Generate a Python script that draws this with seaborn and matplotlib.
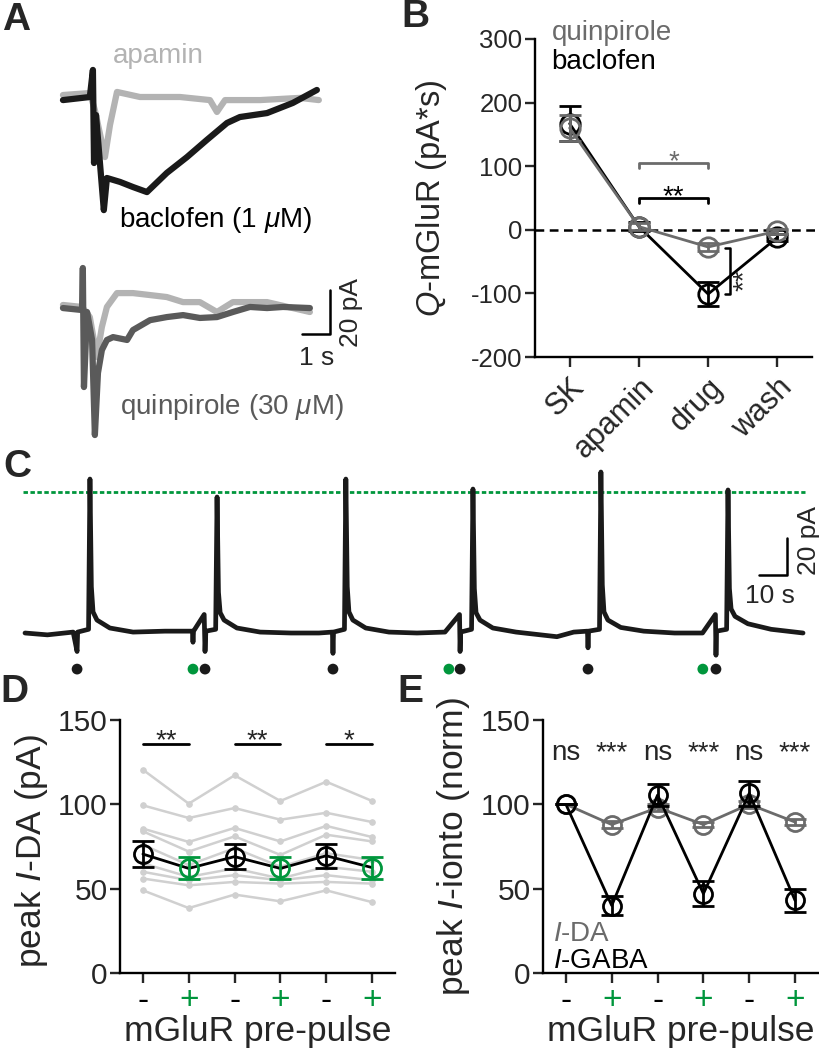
import matplotlib
matplotlib.use("Agg")
import matplotlib.pyplot as plt
import numpy as np
import pandas as pd
import seaborn as sns

# ---------------------------
# A: example traces (time in s, current in pA from baseline)
# ---------------------------
a_bac_t = [0.00, 0.96, 1.07, 1.11, 1.18, 1.46, 1.57, 2.04, 2.50, 3.00, 3.71, 4.43,
           5.14, 5.86, 6.32, 7.29, 8.21, 9.07]
a_bac_i = [-0.5, 0.9, 13.2, -29.1, -7.3, -50.5, -35.9, -37.7, -40.0, -42.3, -33.6, -26.4,
           -18.6, -10.9, -8.2, -6.4, -1.8, 4.1]
a_apa1_t = [0.00, 0.96, 1.14, 1.50, 1.68, 1.93, 2.75, 4.18, 5.25, 5.50, 5.79, 7.04, 8.46, 9.14]
a_apa1_i = [1.8, 2.7, -5.0, -26.4, -11.8, 3.2, 0.9, 0.9, -0.5, -5.9, -0.5, -0.5, 0.5, -0.5]
a_qui_t = [0.00, 0.68, 0.71, 0.75, 0.86, 1.04, 1.14, 1.25, 1.39, 1.57, 1.79, 2.29, 2.50,
           3.11, 3.71, 4.29, 4.89, 5.50, 6.07, 6.68, 7.29, 7.86, 8.82]
a_qui_i = [1.0, 0.1, 19.2, -34.9, -0.8, -13.5, -56.7, -28.5, -18.1, -13.5, -12.2, -13.5, -9.0,
           -4.5, -3.1, -2.2, -3.5, -3.1, -0.8, 1.5, 1.0, 1.5, 1.0]
a_apa2_t = [0.00, 0.68, 0.96, 1.21, 1.39, 1.57, 1.93, 2.50, 3.11, 3.71, 4.29, 4.89, 5.50,
            6.07, 7.29, 8.82]
a_apa2_i = [2.4, 1.5, -3.1, -21.3, -7.6, 1.5, 7.8, 7.8, 6.9, 6.0, 3.7, 3.7, -0.8, 3.7, 3.7, -0.8]
A_OFFSET = -96  # vertical offset of the quinpirole pair

# ---------------------------
# B: Q-mGluR
# ---------------------------
b_conds = ["SK", "apamin", "drug", "wash"]
b_bac_mean = [167, 5, -101, -12]
b_bac_sem = [28, 7, 19, 6]
b_qui_mean = [160, 5, -27, -2]
b_qui_sem = [20, 5, 6, 4]

# ---------------------------
# C: long recording
# ---------------------------
c_t = [0.0, 8.0, 17.2, 18.6, 18.8, 22.7, 23.2, 23.7, 24.3, 25.7, 30.3, 38.6, 50.0,
       59.8, 60.0, 60.2, 64.0, 64.3, 64.6, 68.1, 68.6, 69.1, 69.7, 71.1, 75.7, 84.0, 95.0,
       105.0, 109.8, 110.0, 110.2, 114.1, 114.6, 115.1, 115.7, 117.1, 121.7, 130.0, 140.0,
       150.0, 155.2, 155.4, 155.6, 159.5, 160.0, 160.5, 161.1, 162.5, 167.1, 175.4, 190.0,
       196.0, 200.9, 201.1, 201.3, 205.2, 205.7, 206.2, 206.8, 208.2, 212.8, 221.0, 232.0,
       242.0, 246.6, 246.8, 247.0, 250.6, 251.1, 251.6, 252.2, 253.6, 258.2, 266.5, 277.9]
c_i = [0, -1, 0.5, -10, 0.5, 2, 83.2, 25, 11.4, 7, 2.7, 0.5, 1,
       1, -5, 1, 10, -10, 1, 2, 73.5, 22, 11, 7, 2.7, 0.5, 0,
       0, 0.5, -11, 0.5, 2, 83.2, 25, 11.4, 7, 2.7, 0.5, 0,
       0.5, 10, -10, 0.5, 2, 77.8, 24, 11, 7, 2.7, 0.5, -2,
       0.5, 1, -8, 1, 2, 87.0, 26, 11.4, 7, 3, 1, 0,
       0, 10, -12, 1, 2, 77.3, 24, 13, 9, 5, 2, 0]
c_black_dots = [18.6, 64.3, 110.0, 155.4, 201.1, 246.8]
c_green_dots = [60.0, 151.4, 242.1]
c_ref = 76.2

# ---------------------------
# D / E
# ---------------------------
prepulse = ["-", "+", "-", "+", "-", "+"]
d_cells = [
    [120.5, 100.4, 117.2, 102.0, 113.4, 102.0],
    [99.4, 91.9, 97.8, 90.9, 95.0, 89.5],
    [85.6, 77.7, 86.0, 78.0, 87.2, 80.6],
    [84.0, 72.0, 81.0, 70.0, 82.0, 78.0],
    [76.0, 64.0, 74.0, 63.0, 71.0, 67.0],
    [65.0, 57.0, 62.0, 56.0, 63.0, 60.0],
    [60.0, 55.0, 58.0, 55.0, 58.0, 55.0],
    [56.0, 52.0, 54.0, 53.0, 54.0, 53.0],
    [49.0, 38.5, 46.5, 42.5, 49.0, 42.0],
]
d_mean = [70.5, 62.0, 69.0, 62.0, 69.5, 62.5]
d_sem = [7.5, 6.5, 7.5, 6.5, 7.0, 6.5]
d_sig = ["**", "**", "*"]

e_da_mean = [100, 88, 98, 88, 100, 89.5]
e_da_sem = [0, 2, 2, 1.5, 2, 2]
e_gaba_mean = [100, 40, 105.5, 47, 106.5, 43]
e_gaba_sem = [0, 5.5, 6.5, 7.5, 7.5, 7]
e_sig = ["ns", "***", "ns", "***", "ns", "***"]

# ---------------------------
# style
# ---------------------------
sns.set_style("ticks")
plt.rcParams["font.family"] = ["Liberation Sans", "DejaVu Sans"]
plt.rcParams["mathtext.fontset"] = "custom"
plt.rcParams["mathtext.rm"] = "Liberation Sans"
plt.rcParams["mathtext.it"] = "Liberation Sans:italic"
plt.rcParams["axes.unicode_minus"] = False
plt.rcParams["axes.linewidth"] = 1.7
plt.rcParams["xtick.major.width"] = 1.7
plt.rcParams["ytick.major.width"] = 1.7
plt.rcParams["xtick.major.size"] = 7
plt.rcParams["ytick.major.size"] = 7
plt.rcParams["axes.edgecolor"] = "black"

GREEN = "#00963c"
LIGHT = "#b3b3b3"
DARK = "#5a5a5a"
MID = "#6b6b6b"
W, H = 819, 1050

fig = plt.figure(figsize=(W / 100, H / 100), dpi=100)


def px_axes(l, t, r, b):
    return fig.add_axes([l / W, 1 - b / H, (r - l) / W, (b - t) / H])


def trace(ax, t, i, color, lw, offset=0):
    df = pd.DataFrame({"t": t, "i": np.array(i) + offset})
    sns.lineplot(data=df, x="t", y="i", ax=ax, color=color, lw=lw,
                 sort=False, estimator=None, legend=False)


# panel letters
for letter, x, y in [("A", 2, 30), ("B", 401, 27), ("C", 3, 477), ("D", 0, 702), ("E", 397, 702)]:
    fig.text(x / W, 1 - y / H, letter, fontsize=28, fontweight="bold", va="baseline", ha="left")

# ---------------------------
# A
# ---------------------------
axA = px_axes(40, 40, 360, 450)
trace(axA, a_apa1_t, a_apa1_i, LIGHT, 4.5)
trace(axA, a_bac_t, a_bac_i, "#1a1a1a", 4.5)
trace(axA, a_apa2_t, a_apa2_i, LIGHT, 4.5, A_OFFSET)
trace(axA, a_qui_t, a_qui_i, DARK, 4.5, A_OFFSET)
axA.plot([8.54, 9.54, 9.54], [-106.8, -106.8, -86.8], color="black", lw=1.8)
axA.text(9.85, -96.8, "20 pA", rotation=90, ha="left", va="center", fontsize=19)
axA.text(9.07, -121, "1 s", ha="center", va="baseline", fontsize=19)
axA.text(1.79, 16.4, "apamin", color=LIGHT, fontsize=20, va="baseline")
axA.text(2.0, -58.2, "baclofen (1 $\\mu$M)", color="black", fontsize=20, va="baseline")
axA.text(2.04, -143.2, "quinpirole (30 $\\mu$M)", color=DARK, fontsize=20, va="baseline")
axA.set_xlim(-0.82, 10.61)
axA.set_ylim(-159.5, 26.8)
axA.axis("off")

# ---------------------------
# B
# ---------------------------
axB = px_axes(535, 39, 812, 357)
xb = np.arange(len(b_conds))
axB.plot([-0.5, 3.7], [0, 0], color="black", lw=1.8, ls=(0, (3.5, 2.2)), clip_on=False, zorder=1)
for mean, sem, col in [(b_bac_mean, b_bac_sem, "black"), (b_qui_mean, b_qui_sem, MID)]:
    dfb = pd.DataFrame({"x": xb, "y": mean})
    sns.lineplot(data=dfb, x="x", y="y", ax=axB, color=col, lw=2, marker="o", ms=14,
                 mfc="none", mec=col, mew=2, legend=False, zorder=3)
    axB.errorbar(xb, mean, yerr=sem, fmt="none", ecolor=col, elinewidth=2,
                 capsize=8, capthick=2, zorder=3)
# significance
axB.plot([1, 1, 2, 2], [97, 105, 105, 97], color=MID, lw=2)
axB.text(1.5, 96, "*", color=MID, fontsize=20, ha="center", va="baseline")
axB.plot([1, 1, 2, 2], [42, 50, 50, 42], color="black", lw=2)
axB.text(1.5, 41, "**", color="black", fontsize=20, ha="center", va="baseline")
axB.plot([2.25, 2.32, 2.32, 2.25], [-28, -28, -100.5, -100.5], color="black", lw=1.8)
axB.text(2.34, -80, "**", rotation=90, fontsize=20, ha="left", va="center")
axB.text(-0.26, 298, "quinpirole", color=MID, fontsize=20, va="baseline")
axB.text(-0.26, 253, "baclofen", color="black", fontsize=20, va="baseline")
axB.set_xlim(-0.5, 3.5)
axB.set_ylim(-200, 300)
axB.set_yticks([-200, -100, 0, 100, 200, 300])
axB.set_xticks(xb)
axB.set_xticklabels(b_conds, rotation=45, ha="right", rotation_mode="anchor", fontsize=22)
axB.tick_params(axis="y", labelsize=18.5, length=7, width=1.7, pad=2)
axB.tick_params(axis="x", length=7, width=1.7, pad=4)
axB.set_xlabel("")
axB.set_ylabel("$\\mathit{Q}$-mGluR (pA*s)", fontsize=23.5)
axB.yaxis.set_label_coords(-0.31, 0.5)
sns.despine(ax=axB)

# ---------------------------
# C
# ---------------------------
axC = px_axes(0, 440, 819, 690)
axC.plot([-0.7, 278.6], [c_ref, c_ref], color=GREEN, lw=2, ls=(0, (1.6, 0.9)))
trace(axC, c_t, c_i, "#1a1a1a", 3.4)
sns.scatterplot(x=c_black_dots, y=[-19.5] * len(c_black_dots), ax=axC, color="#1a1a1a",
                s=60, edgecolor="none", legend=False)
sns.scatterplot(x=c_green_dots, y=[-19.5] * len(c_green_dots), ax=axC, color=GREEN,
                s=60, edgecolor="none", legend=False)
axC.plot([262, 272, 272], [31.4, 31.4, 51.4], color="black", lw=1.8)
axC.text(266, 16.2, "10 s", ha="center", va="baseline", fontsize=19)
axC.text(275.6, 50, "20 pA", rotation=90, ha="left", va="center", fontsize=19)
axC.set_xlim(-8.93, 283.6)
axC.set_ylim(-30.8, 104.3)
axC.axis("off")

# ---------------------------
# D
# ---------------------------
axD = px_axes(120, 720, 395, 973)
xs = np.arange(len(prepulse))
cells = pd.DataFrame([(k, x, v) for k, row in enumerate(d_cells) for x, v in zip(xs, row)],
                     columns=["cell", "x", "y"])
sns.lineplot(data=cells, x="x", y="y", units="cell", estimator=None, ax=axD, color="#d0d0d0",
             lw=1.8, marker="o", ms=4, mec="#d0d0d0", legend=False, zorder=1)
axD.plot(xs, d_mean, color="black", lw=2, zorder=2)
for x0, m, s in zip(xs, d_mean, d_sem):
    col = GREEN if prepulse[x0] == "+" else "black"
    axD.errorbar([x0], [m], yerr=[s], fmt="o", ms=13, mfc="none", mec=col, mew=2,
                 ecolor=col, elinewidth=2, capsize=8, capthick=2, zorder=3)
for k, sig in enumerate(d_sig):
    axD.plot([2 * k, 2 * k + 1], [136, 136], color="black", lw=2)
    axD.text(2 * k + 0.5, 133.5, sig, ha="center", va="baseline", fontsize=20)
axD.set_ylabel("peak $\\mathit{I}$-DA (pA)", fontsize=25.5)
axD.yaxis.set_label_coords(-0.255, 0.48)

# ---------------------------
# E
# ---------------------------
axE = px_axes(543, 720, 818, 973)
for mean, sem, col in [(e_da_mean, e_da_sem, MID), (e_gaba_mean, e_gaba_sem, "black")]:
    dfe = pd.DataFrame({"x": xs, "y": mean})
    sns.lineplot(data=dfe, x="x", y="y", ax=axE, color=col, lw=2, marker="o", ms=13,
                 mfc="none", mec=col, mew=2, legend=False)
    axE.errorbar(xs, mean, yerr=sem, fmt="none", ecolor=col, elinewidth=2,
                 capsize=8, capthick=2)
for x0, sig in zip(xs, e_sig):
    axE.text(x0, 126, sig, ha="center", va="baseline", fontsize=20)
axE.text(-0.28, 19, "$\\mathit{I}$-DA", color=MID, fontsize=20, va="baseline")
axE.text(-0.28, 3, "$\\mathit{I}$-GABA", color="black", fontsize=20, va="baseline")
axE.set_ylabel("peak $\\mathit{I}$-ionto (norm)", fontsize=25.5)
axE.yaxis.set_label_coords(-0.258, 0.5)

for ax in (axD, axE):
    ax.set_xlim(-0.5, 5.5)
    ax.set_ylim(0, 150)
    ax.set_yticks([0, 50, 100, 150])
    ax.set_xticks(xs)
    ax.set_xticklabels(prepulse, fontsize=24)
    for lab, p in zip(ax.get_xticklabels(), prepulse):
        lab.set_color(GREEN if p == "+" else "black")
    ax.tick_params(axis="y", labelsize=21.5, length=7, width=1.7, pad=2)
    ax.tick_params(axis="x", length=7, width=1.7, pad=2)
    ax.set_xlabel("mGluR pre-pulse", fontsize=25.5)
    ax.xaxis.set_label_coords(0.5, -0.165)
    sns.despine(ax=ax)

fig.savefig("out.png", dpi=100)
